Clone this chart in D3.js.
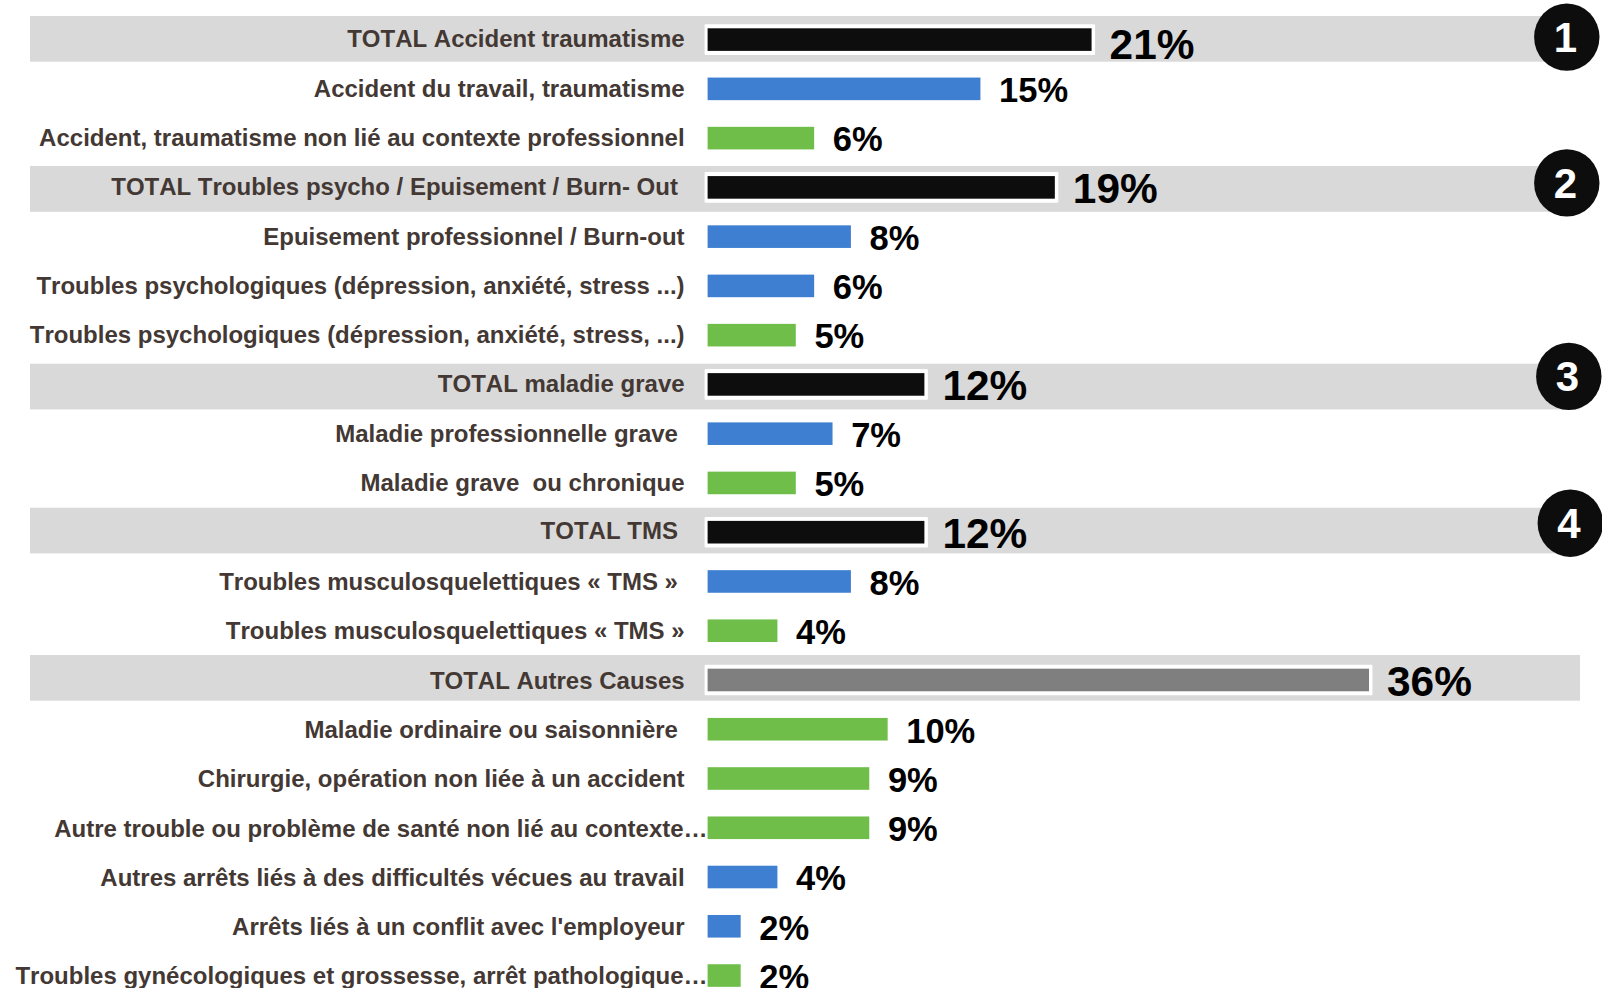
<!DOCTYPE html>
<html>
<head>
<meta charset="utf-8">
<script src="https://cdn.jsdelivr.net/npm/d3@7"></script>
<style>
  html, body { margin: 0; padding: 0; background: #fff; overflow: hidden; }
  svg { display: block; }
  text { font-family: "Liberation Sans", Arial, sans-serif; font-weight: bold; font-kerning: none; }
</style>
</head>
<body>
<svg id="chart" width="1602" height="988"></svg>
<script>
// row labels, trailing spaces are in the original
var categories = [
    "TOTAL Accident traumatisme",
    "Accident du travail, traumatisme",
    "Accident, traumatisme non lié au contexte professionnel",
    "TOTAL Troubles psycho / Epuisement / Burn- Out ",
    "Epuisement professionnel / Burn-out",
    "Troubles psychologiques (dépression, anxiété, stress ...)",
    "Troubles psychologiques (dépression, anxiété, stress, ...)",
    "TOTAL maladie grave",
    "Maladie professionnelle grave ",
    "Maladie grave  ou chronique",
    "TOTAL TMS ",
    "Troubles musculosquelettiques « TMS » ",
    "Troubles musculosquelettiques « TMS »",
    "TOTAL Autres Causes",
    "Maladie ordinaire ou saisonnière ",
    "Chirurgie, opération non liée à un accident",
    "Autre trouble ou problème de santé non lié au contexte…",
    "Autres arrêts liés à des difficultés vécues au travail",
    "Arrêts liés à un conflit avec l'employeur",
    "Troubles gynécologiques et grossesse, arrêt pathologique…"
];
// bar lengths
var values = [20.9, 14.85, 5.8, 18.9, 7.8, 5.8, 4.8, 11.8, 6.8, 4.8, 11.8, 7.8, 3.8, 36, 9.8, 8.8, 8.8, 3.8, 1.8, 1.8];
var valueLabels = ["21%", "15%", "6%", "19%", "8%", "6%", "5%", "12%", "7%", "5%", "12%", "8%", "4%", "36%", "10%", "9%", "9%", "4%", "2%", "2%"];
var kinds = ["total", "blue", "green", "total", "blue", "blue", "green", "total", "blue", "green", "total", "blue", "green", "other", "green", "green", "green", "blue", "blue", "green"];
var badgeRows = [0, 3, 7, 10];
var badgeLabels = ["1", "2", "3", "4"];

var colors = {total: "#0d0d0d", other: "#7f7f7f", blue: "#3f7fd1", green: "#6fbe4a"};
// the grey bands and badges were placed by hand in the original
var bandShift = {0: -12.3, 3: -10, 7: -9.4, 10: -13.2, 13: -13.7};
var badgeShift = [[0, -2.5], [0, -4.5], [2, -8], [3.5, -9]];

var svg = d3.select("#chart");
var rows = d3.range(categories.length);
var barH = 22.6;

var x = d3.scaleLinear().domain([0, 36]).range([707.6, 1369]);
var y = d3.scaleBand().domain(rows).range([28.3, 28.3 + 49.26 * rows.length]);
var yMid = function(i) { return y(i) + barH / 2; };
var isTotal = function(i) { return kinds[i] == "total" || kinds[i] == "other"; };

// grey bands behind the totals
svg.selectAll("rect.band")
    .data(rows.filter(isTotal))
    .enter()
    .append("rect")
    .attr("class", "band")
    .attr("x", 30)
    .attr("width", 1550)
    .attr("y", function(i) { return y(i) + bandShift[i]; })
    .attr("height", 45.7)
    .attr("fill", "#d9d9d9");

// white frame round the totals
svg.selectAll("rect.frame")
    .data(rows.filter(isTotal))
    .enter()
    .append("rect")
    .attr("class", "frame")
    .attr("x", x(0) - 3)
    .attr("y", function(i) { return y(i) - 4; })
    .attr("width", function(i) { return x(values[i]) - x(0) + 6.5; })
    .attr("height", barH + 8)
    .attr("rx", 1)
    .attr("fill", "#fff");

svg.selectAll("rect.bar")
    .data(rows)
    .enter()
    .append("rect")
    .attr("class", "bar")
    .attr("x", x(0))
    .attr("y", function(i) { return y(i); })
    .attr("width", function(i) { return x(values[i]) - x(0); })
    .attr("height", barH)
    .attr("fill", function(i) { return colors[kinds[i]]; });

// category labels
var yAxis = d3.axisLeft(y.copy().range([28.3 + barH / 2 - 24.63, 28.3 + barH / 2 - 24.63 + 49.26 * rows.length]))
    .tickSize(0)
    .tickPadding(0)
    .tickFormat(function(i) { return categories[i]; });

var axisG = svg.append("g")
    .attr("class", "y axis")
    .attr("transform", "translate(684.6,0)")
    .call(yAxis);
axisG.select(".domain").remove();
axisG.selectAll("text")
    .attr("x", function(i) { return categories[i].slice(-1) == "…" ? 23 : 0; })
    .attr("dy", function(i) {
        if (i >= 13) return "8.8px";
        return isTotal(i) ? "7.2px" : "8.2px";
    })
    .attr("font-size", "24px")
    .attr("font-family", "Liberation Sans")
    .attr("font-weight", "bold")
    .attr("fill", "#433833")
    .style("white-space", "pre");

// value labels, the first one sits a bit lower and closer in the original
svg.selectAll("text.value")
    .data(rows)
    .enter()
    .append("text")
    .attr("class", "value")
    .attr("x", function(i) {
        if (i == 0) return x(values[i]) + 18;
        return x(values[i]) + (isTotal(i) ? 18 : 18.6);
    })
    .attr("y", function(i) {
        if (i == 0) return yMid(i) + 19.8;
        return yMid(i) + (isTotal(i) ? 15.7 : 13.3);
    })
    .attr("font-size", function(i) {
        return isTotal(i) ? "42.4px" : "34.5px";
    })
    .attr("fill", "#000")
    .text(function(i) { return valueLabels[i]; });

// numbered badges
svg.selectAll("ellipse.badge")
    .data(badgeRows)
    .enter()
    .append("ellipse")
    .attr("class", "badge")
    .attr("cx", function(d, i) { return 1566.8 + badgeShift[i][0]; })
    .attr("cy", function(d, i) { return yMid(d) + badgeShift[i][1]; })
    .attr("rx", 32.7)
    .attr("ry", 33.7)
    .attr("fill", "#0d0d0d");

svg.selectAll("text.badge-label")
    .data(badgeRows)
    .enter()
    .append("text")
    .attr("class", "badge-label")
    .attr("x", function(d, i) { return 1565.5 + badgeShift[i][0]; })
    .attr("y", function(d, i) { return yMid(d) + badgeShift[i][1] + 15; })
    .attr("text-anchor", "middle")
    .attr("font-size", "42px")
    .attr("fill", "#fff")
    .text(function(d, i) { return badgeLabels[i]; });
</script>
</body>
</html>
